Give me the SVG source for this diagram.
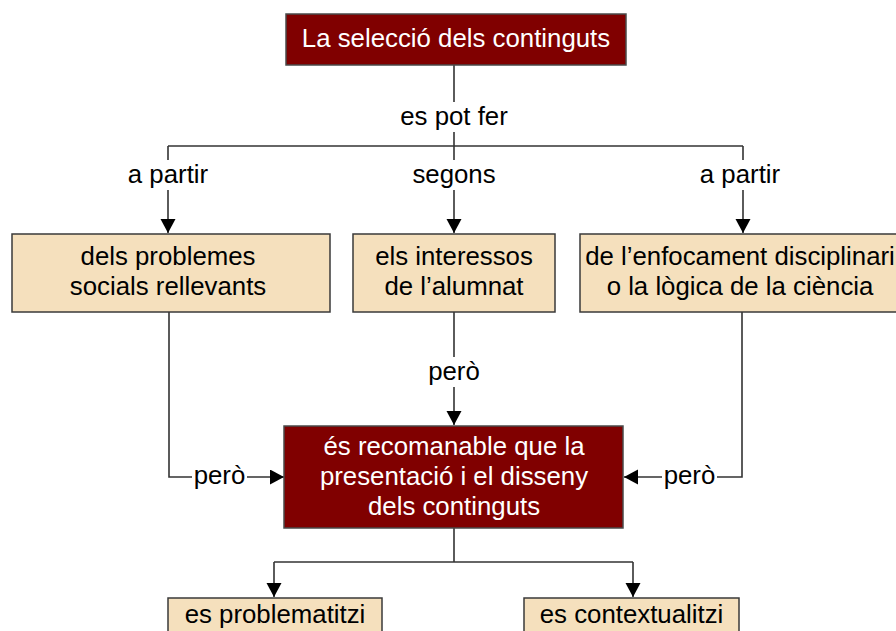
<svg xmlns="http://www.w3.org/2000/svg" width="896" height="631" viewBox="0 0 896 631">
<style>
.dark{fill:#800000;stroke:#4a4a4a;stroke-width:1.5}
.light{fill:#f5e0bd;stroke:#3a3a3a;stroke-width:1.5}
text{font-family:"Liberation Sans",Arial,sans-serif;font-size:25.8px;text-anchor:middle}
.w{fill:#ffffff}
.k{fill:#000000}
.c{fill:none;stroke:#333333;stroke-width:1.6}
.bg{fill:#ffffff}
</style>
<defs>
<marker id="ah" markerUnits="userSpaceOnUse" markerWidth="16" markerHeight="16" viewBox="0 0 16 16" refX="14" refY="7.5" orient="auto">
<path d="M0,0 L14,7.5 L0,15 Z" fill="#000"/>
</marker>
</defs>
<g id="connectors">
<path class="c" d="M454,65 V146"/>
<path class="c" d="M168,146 H743"/>
<path class="c" d="M168,146 V233" marker-end="url(#ah)"/>
<path class="c" d="M454,146 V233" marker-end="url(#ah)"/>
<path class="c" d="M743,146 V233" marker-end="url(#ah)"/>
<path class="c" d="M454,312 V425" marker-end="url(#ah)"/>
<path class="c" d="M169,312 V477 H284" marker-end="url(#ah)"/>
<path class="c" d="M742,312 V477 H624" marker-end="url(#ah)"/>
<path class="c" d="M454,528 V562"/>
<path class="c" d="M274,562 H633"/>
<path class="c" d="M274,562 V597" marker-end="url(#ah)"/>
<path class="c" d="M633,562 V597" marker-end="url(#ah)"/>
<rect class="bg" x="396" y="102" width="116" height="30"/>
<text class="k" x="454" y="125">es pot fer</text>
<rect class="bg" x="126" y="160" width="86" height="30"/>
<text class="k" x="168" y="183">a partir</text>
<rect class="bg" x="410" y="160" width="88" height="30"/>
<text class="k" x="454" y="183">segons</text>
<rect class="bg" x="697" y="160" width="88" height="30"/>
<text class="k" x="740" y="183">a partir</text>
<rect class="bg" x="426" y="357" width="56" height="30"/>
<text class="k" x="454" y="380">però</text>
<rect class="bg" x="192" y="461" width="55" height="30"/>
<text class="k" x="219.5" y="484">però</text>
<rect class="bg" x="662" y="461" width="55" height="30"/>
<text class="k" x="689.5" y="484">però</text>
</g>
<g id="n1">
<rect class="dark" x="286" y="14" width="340" height="51"/>
<text class="w" x="456" y="47">La selecció dels continguts</text>
</g>
<g id="n2">
<rect class="light" x="12" y="234" width="318" height="78"/>
<text class="k" x="168" y="265">dels problemes</text>
<text class="k" x="168" y="295">socials rellevants</text>
</g>
<g id="n3">
<rect class="light" x="353" y="234" width="202" height="78"/>
<text class="k" x="454" y="265">els interessos</text>
<text class="k" x="454" y="295">de l’alumnat</text>
</g>
<g id="n4">
<rect class="light" x="580" y="234" width="320" height="78"/>
<text class="k" x="740" y="265">de l’enfocament disciplinari</text>
<text class="k" x="740" y="295">o la lògica de la ciència</text>
</g>
<g id="n5">
<rect class="dark" x="284" y="426" width="339" height="102"/>
<text class="w" x="454" y="455">és recomanable que la</text>
<text class="w" x="454" y="485">presentació i el disseny</text>
<text class="w" x="454" y="515">dels continguts</text>
</g>
<g id="n6">
<rect class="light" x="168" y="598" width="214" height="42"/>
<text class="k" x="275" y="623">es problematitzi</text>
</g>
<g id="n7">
<rect class="light" x="524" y="598" width="215" height="42"/>
<text class="k" x="631.5" y="623">es contextualitzi</text>
</g>
</svg>
